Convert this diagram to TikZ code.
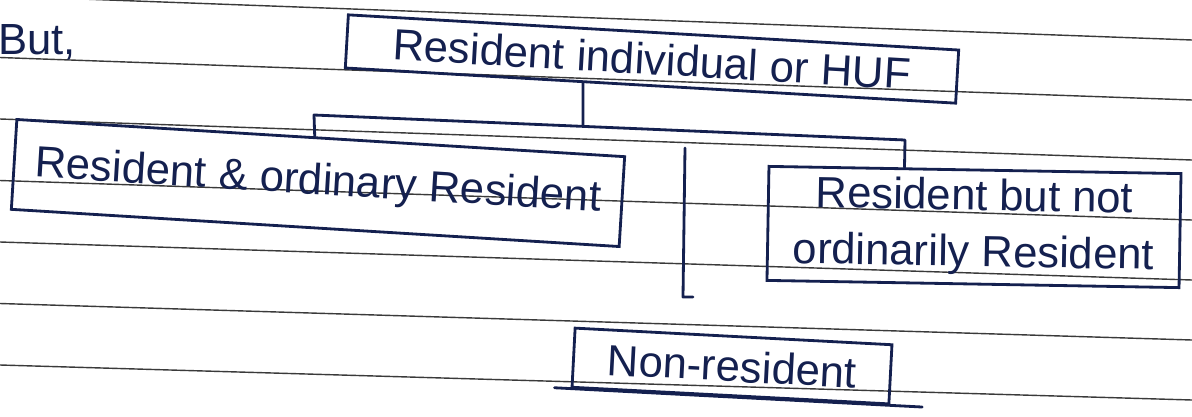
\documentclass[tikz,border=0pt]{standalone}
\usepackage{fontspec}
\setmainfont{Liberation Sans}
\usetikzlibrary{calc}
\definecolor{ink}{HTML}{14204F}
\definecolor{rulecol}{HTML}{3A3A3A}
\begin{document}
\begin{tikzpicture}[x=0.025cm,y=-0.025cm,
  box/.style={draw=ink, line width=2pt, text=ink, inner sep=0pt, align=center,
    font=\fontsize{31}{40}\selectfont},
  conn/.style={draw=ink, line width=2pt, line cap=round, line join=round},
  ruled/.style={draw=rulecol, line width=1pt}]
\useasboundingbox (0,0) rectangle (1192,416);
% notebook ruling
\foreach \i in {0,...,6} \draw[ruled] (0,{-4+61.5*\i}) -- (1192,{40+60*\i});
% texts and boxes
\node[text=ink, font=\fontsize{31}{36}\selectfont, anchor=west, inner sep=0pt] (but) at (-2,42) {But,};
\node[box, rotate=-3.3, minimum width=15.28cm, minimum height=1.33cm] (top) at (652,59) {Resident individual or HUF};
\node[box, rotate=-3.5, minimum width=15.22cm, minimum height=2.25cm] (left) at (318,183) {Resident \& ordinary Resident};
\node[box, rotate=-1, minimum width=10.3cm, minimum height=2.85cm] (right) at (974,227) {Resident but not\\ordinarily Resident};
\node[box, rotate=-3, minimum width=7.93cm, minimum height=1.48cm] (nr) at (732,366) {Non-resident};
\draw[conn] ($(nr.south west)!-0.05!(nr.south east)$) -- ($(nr.south west)!1.1!(nr.south east)$);
% connectors
\coordinate (lt) at ($(left.north west)!0.49!(left.north east)$);
\coordinate (rt) at ($(right.north west)!0.33!(right.north east)$);
\coordinate (jl) at (314,115);
\coordinate (jr) at (905,140);
\coordinate (tb) at ($(top.south west)!0.39!(top.south east)$);
\coordinate (jm) at ($(jl)!0.455!(jr)$);
\draw[conn] (lt) -- (jl) -- (jr) -- (rt);
\draw[conn] (tb) -- (jm);
\coordinate (vt) at (685,148);
\coordinate (vb) at (683,297);
\coordinate (vf) at (693,297);
\draw[conn] (vt) -- (vb) -- (vf);
\end{tikzpicture}
\end{document}
